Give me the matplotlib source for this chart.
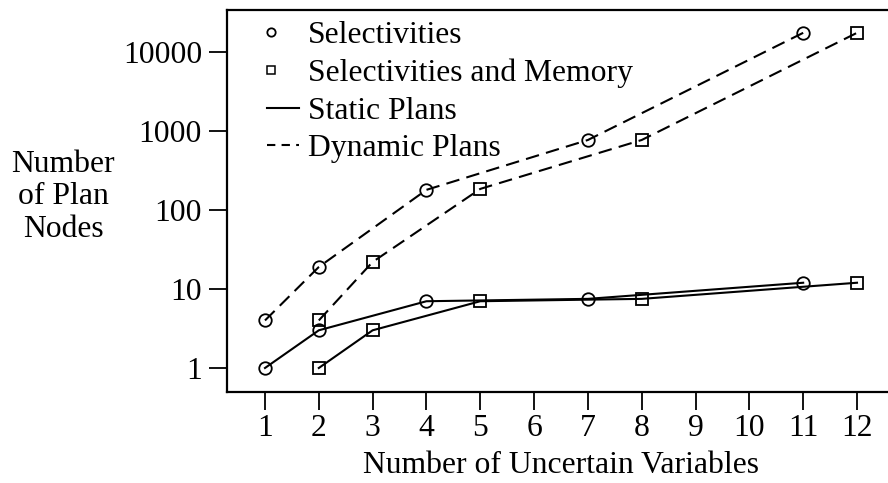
import matplotlib
matplotlib.use("Agg")
import matplotlib.pyplot as plt
from matplotlib.lines import Line2D
from matplotlib.legend_handler import HandlerLine2D

# ---- data ----
x_sel = [1, 2, 4, 7, 11]
sel_static = [1, 3, 7, 7.5, 12]
sel_dynamic = [4, 19, 180, 770, 17500]

x_mem = [2, 3, 5, 8, 12]
mem_static = [1, 3, 7, 7.5, 12]
mem_dynamic = [4, 22, 185, 770, 17500]

x_ticks = [1, 2, 3, 4, 5, 6, 7, 8, 9, 10, 11, 12]
y_ticks = [1, 10, 100, 1000, 10000]
y_ticklabels = ["1", "10", "100", "1000", "10000"]

legend_labels = ["Selectivities", "Selectivities and Memory", "Static Plans", "Dynamic Plans"]

plt.rcParams['font.family'] = ['Liberation Serif', 'DejaVu Serif']
FS = 22.8

fig = plt.figure(figsize=(8.88, 4.83), dpi=100)
ax = fig.add_axes([227 / 888, 91 / 483, 661 / 888, 382 / 483])

lw = 1.5
ms = 9
dash = (6.5, 3.5)

ax.plot(x_sel, sel_static, '-', color='black', lw=lw, marker='o', ms=ms,
        mfc='none', mec='black', mew=1.3)
ax.plot(x_mem, mem_static, '-', color='black', lw=lw, marker='s', ms=ms,
        mfc='none', mec='black', mew=1.3)
ax.plot(x_sel, sel_dynamic, '--', dashes=dash, color='black', lw=lw, marker='o', ms=ms,
        mfc='none', mec='black', mew=1.3)
ax.plot(x_mem, mem_dynamic, '--', dashes=dash, color='black', lw=lw, marker='s', ms=ms,
        mfc='none', mec='black', mew=1.3)

ax.set_yscale('log')
ax.set_xlim(0.294, 12.576)
ax.set_ylim(10 ** -0.304, 10 ** 4.532)
ax.set_xticks(x_ticks)
ax.set_xticklabels([str(v) for v in x_ticks])
ax.set_yticks(y_ticks)
ax.set_yticklabels(y_ticklabels)
ax.minorticks_off()

ax.tick_params(axis='both', direction='out', length=13, width=1.3,
               labelsize=FS, color='black')
ax.tick_params(axis='x', pad=3)
ax.tick_params(axis='y', pad=5)

for side in ['top', 'bottom', 'left']:
    ax.spines[side].set_linewidth(1.6)
ax.spines['right'].set_visible(False)

ax.set_xlabel("Number of Uncertain Variables", fontsize=FS, va='center')
ax.xaxis.set_label_coords(0.505, -0.193)
ax.set_ylabel("Number\nof Plan\nNodes", fontsize=FS, rotation=0,
              ha='center', va='center', multialignment='center', linespacing=1.15)
ax.yaxis.set_label_coords(-0.248, 0.5105)


class LeftMarkerHandler(HandlerLine2D):
    """Places the single legend marker near the left end of the handle box."""
    def get_xdata(self, legend, xdescent, ydescent, width, height, fontsize):
        x0 = -xdescent
        return [x0, x0 + 0.26 * width], [x0 + 0.13 * width]


handles = [
    Line2D([], [], ls='none', marker='o', ms=6, mfc='none', mec='black', mew=1.3),
    Line2D([], [], ls='none', marker='s', ms=6, mfc='none', mec='black', mew=1.1),
    Line2D([], [], ls='-', color='black', lw=lw),
    Line2D([], [], ls='--', dashes=(4, 3), color='black', lw=lw),
]
leg = ax.legend(handles, legend_labels, loc='upper left',
                bbox_to_anchor=(0.0605, 0.972), frameon=False, fontsize=FS,
                borderpad=0, borderaxespad=0, handlelength=1.0,
                handletextpad=0.3, labelspacing=0.27, numpoints=1,
                handler_map={handles[0]: LeftMarkerHandler(numpoints=1),
                             handles[1]: LeftMarkerHandler(numpoints=1)})

fig.savefig("out.png", dpi=100)
